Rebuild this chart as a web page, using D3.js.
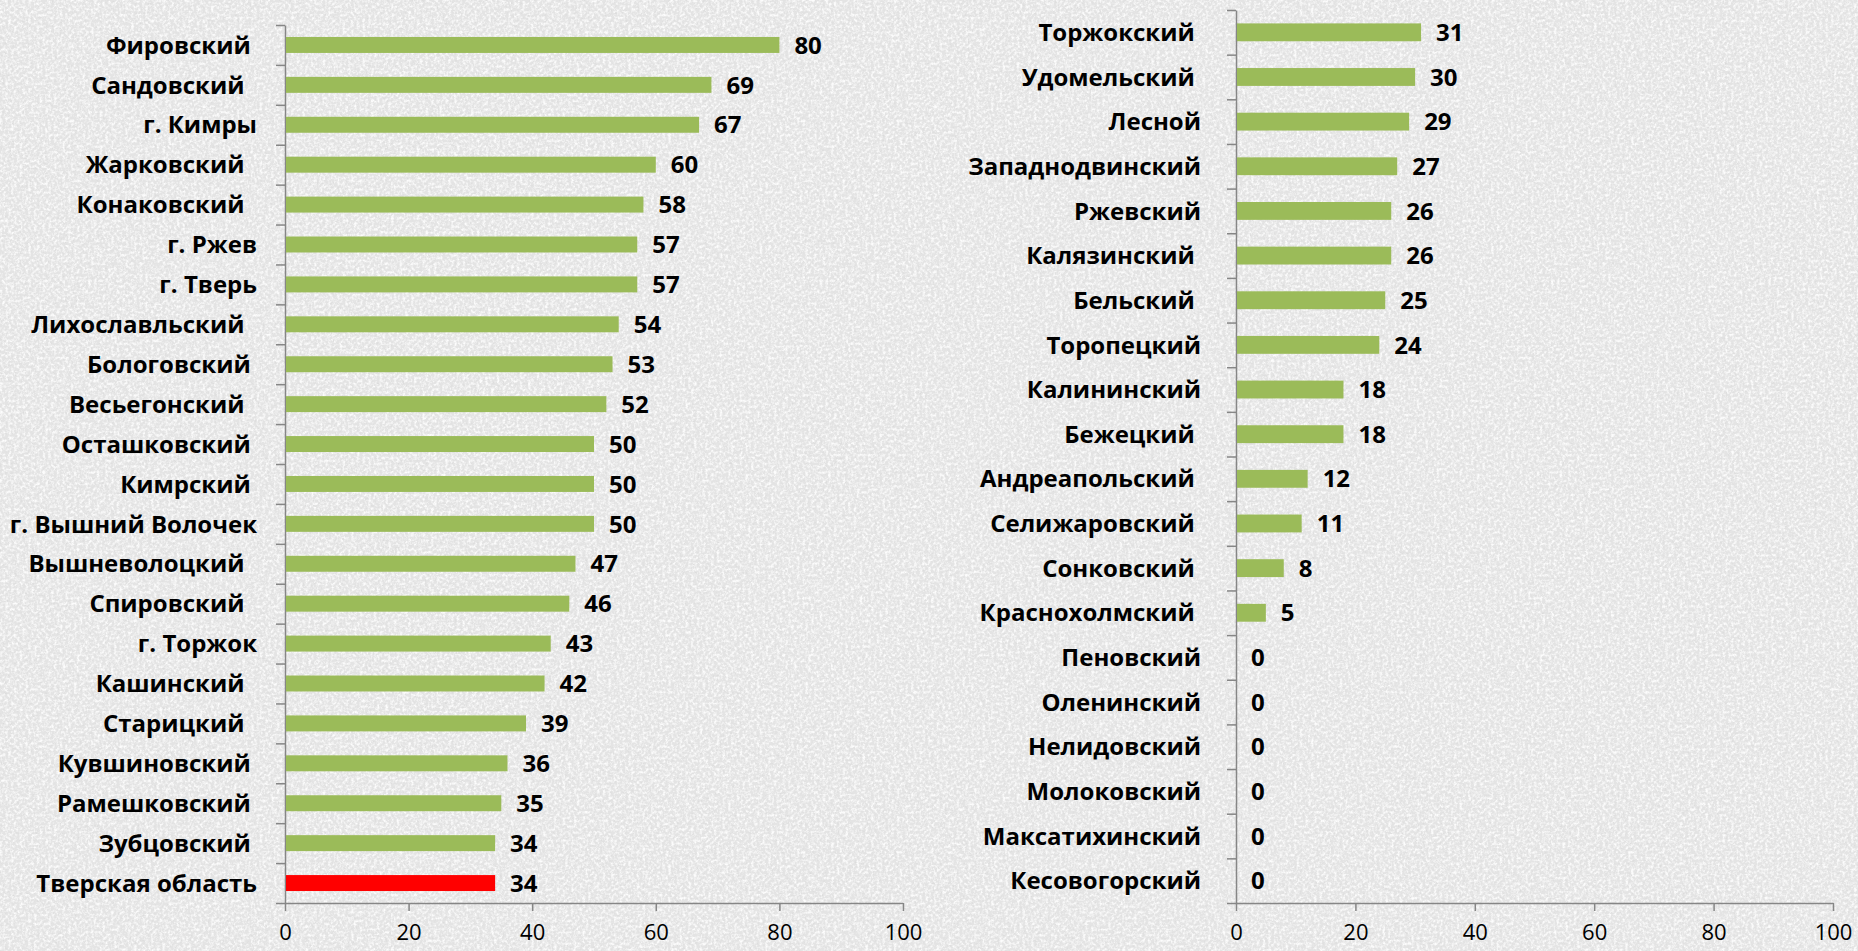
<!DOCTYPE html>
<html>
<head>
<meta charset="utf-8">
<script src="https://cdn.jsdelivr.net/npm/d3@7"></script>
<style>
  html, body { margin: 0; padding: 0; background: #ebebeb; }
  svg { display: block; }
  .cat { font-family: "Open Sans", "Noto Sans", sans-serif; font-weight: 700; font-size: 24px; fill: #000; white-space: pre; }
  .val { font-family: "Open Sans", "Noto Sans", sans-serif; font-weight: 700; font-size: 24px; fill: #000; }
  .tick text { font-family: "Open Sans", "Noto Sans", sans-serif; font-size: 22px; fill: #000; }
  .axis path, .axis line { stroke: #868686; stroke-width: 1.5; }
</style>
</head>
<body>
<div id="chart"></div>
<script>
// Left panel: districts above/around the regional value (trailing spaces as in the source labels)
const leftNames = [
  'Фировский ', 'Сандовский  ', 'г. Кимры', 'Жарковский  ', 'Конаковский  ',
  'г. Ржев', 'г. Тверь', 'Лихославльский  ', 'Бологовский ', 'Весьегонский  ',
  'Осташковский ', 'Кимрский ', 'г. Вышний Волочек', 'Вышневолоцкий  ', 'Спировский  ',
  'г. Торжок', 'Кашинский  ', 'Старицкий  ', 'Кувшиновский ', 'Рамешковский ',
  'Зубцовский ', 'Тверская область'
];
const leftValues = [80, 69, 67, 60, 58, 57, 57, 54, 53, 52, 50, 50, 50, 47, 46, 43, 42, 39, 36, 35, 34, 34];

// Right panel
const rightNames = [
  'Торжокский ', 'Удомельский ', 'Лесной', 'Западнодвинский', 'Ржевский',
  'Калязинский ', 'Бельский ', 'Торопецкий', 'Калининский', 'Бежецкий ',
  'Андреапольский ', 'Селижаровский ', 'Сонковский ', 'Краснохолмский ', 'Пеновский',
  'Оленинский', 'Нелидовский', 'Молоковский', 'Максатихинский', 'Кесовогорский'
];
const rightValues = [31, 30, 29, 27, 26, 26, 25, 24, 18, 18, 12, 11, 8, 5, 0, 0, 0, 0, 0, 0];

const highlightName = 'Тверская область';
const xTicks = [0, 20, 40, 60, 80, 100];

const W = 1858, H = 951;
const svg = d3.select('#chart').append('svg').attr('width', W).attr('height', H);

// granite-like paper texture: light specks plus darker grey specks
const defs = svg.append('defs');
const f = defs.append('filter').attr('id', 'grain').attr('x', 0).attr('y', 0).attr('width', '100%').attr('height', '100%');
f.append('feTurbulence').attr('type', 'fractalNoise').attr('baseFrequency', 0.35).attr('numOctaves', 3).attr('seed', 4).attr('result', 'n');
f.append('feColorMatrix').attr('in', 'n').attr('type', 'matrix')
  .attr('values', '0 0 0 0 1  0 0 0 0 1  0 0 0 0 1  -2.6 0 0 0 1.55');
const f2 = defs.append('filter').attr('id', 'grain2').attr('x', 0).attr('y', 0).attr('width', '100%').attr('height', '100%');
f2.append('feTurbulence').attr('type', 'fractalNoise').attr('baseFrequency', 0.4).attr('numOctaves', 2).attr('seed', 11).attr('result', 'n');
f2.append('feColorMatrix').attr('in', 'n').attr('type', 'matrix')
  .attr('values', '0 0 0 0 0.6  0 0 0 0 0.6  0 0 0 0 0.6  2.8 0 0 0 -1.6');
svg.append('rect').attr('width', W).attr('height', H).attr('fill', '#e4e4e4');
svg.append('rect').attr('width', W).attr('height', H).attr('filter', 'url(#grain)').attr('opacity', 0.9);
svg.append('rect').attr('width', W).attr('height', H).attr('filter', 'url(#grain2)').attr('opacity', 0.4);

function panel(names, values, o) {
  const g = svg.append('g');
  const n = names.length;
  const x = d3.scaleLinear().domain([0, 100]).range([o.x0, o.x1]);
  const y = d3.scaleBand().domain(d3.range(n)).range([o.y0, o.y1]).paddingInner(0.6).paddingOuter(0.3);
  const yEdge = d3.scaleLinear().domain([0, n]).range([o.y0, o.y1]);

  g.append('g').attr('class', 'axis')
    .attr('transform', `translate(${o.x0},0)`)
    .call(d3.axisLeft(yEdge).tickValues(d3.range(n + 1)).tickFormat('').tickSizeInner(9).tickSizeOuter(0));

  g.append('g').attr('class', 'axis')
    .attr('transform', `translate(0,${o.y1})`)
    .call(d3.axisBottom(x).tickValues(xTicks).tickSizeInner(8).tickSizeOuter(0).tickPadding(8))
    .call(a => a.selectAll('.tick text').attr('dy', '0.95em'));

  g.selectAll('rect.bar').data(values).join('rect')
    .attr('class', 'bar')
    .attr('x', x(0) + 1)
    .attr('y', (d, i) => y(i))
    .attr('width', d => Math.max(0, x(d) - x(0) - 1))
    .attr('height', y.bandwidth())
    .attr('fill', (d, i) => names[i] === highlightName ? '#ff0000' : '#9bbb59');

  g.selectAll('text.val').data(values).join('text')
    .attr('class', 'val')
    .attr('x', d => x(d) + 15)
    .attr('y', (d, i) => y(i) + y.bandwidth() / 2)
    .attr('dy', '0.36em')
    .text(d => d);

  g.selectAll('text.cat').data(names).join('text')
    .attr('class', 'cat')
    .attr('x', o.labelX)
    .attr('y', (d, i) => y(i) + y.bandwidth() / 2)
    .attr('dy', '0.36em')
    .attr('text-anchor', 'end')
    .text(d => d);
}

panel(leftNames, leftValues, { x0: 285, x1: 903, y0: 25, y1: 903, labelX: 257 });
panel(rightNames, rightValues, { x0: 1236, x1: 1833, y0: 10, y1: 903, labelX: 1201 });
</script>
</body>
</html>
